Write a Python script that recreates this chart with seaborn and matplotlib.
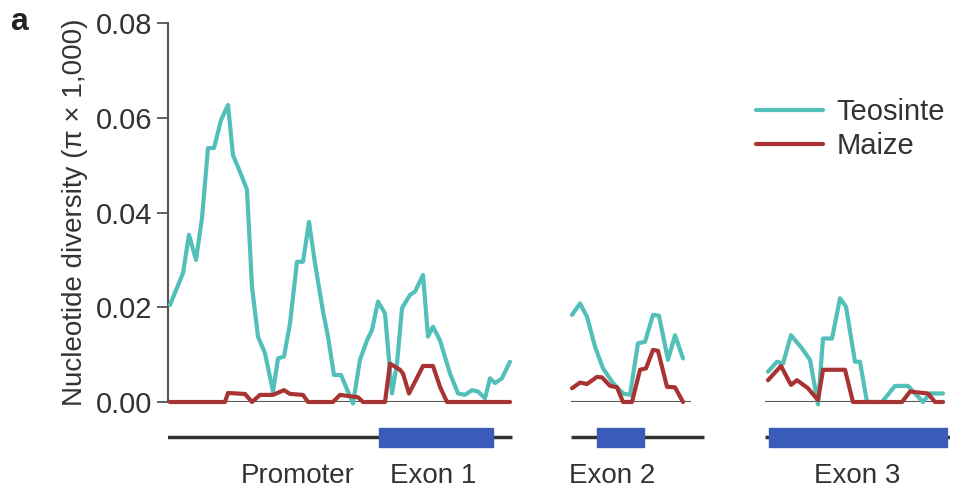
import numpy as np
import pandas as pd
import matplotlib
matplotlib.use("Agg")
import matplotlib.pyplot as plt
import seaborn as sns

# ---- data (positions in arbitrary units along the gene) ----

# segment 1: promoter + exon 1
teo_pos_1 = [2, 15, 21, 28, 34, 40, 46, 53, 60, 65, 72, 79, 84, 90, 97, 105, 110, 116, 122, 129,
             135, 141, 147, 155, 160, 166, 173, 185, 192, 199, 204, 210, 217, 224, 229, 234, 242,
             247, 255, 260, 265, 272, 282, 290, 297, 304, 310, 317, 322, 327, 334, 342]
teo_pi_1 = [0.0205, 0.0272, 0.0353, 0.0300, 0.0388, 0.0536, 0.0536, 0.0595, 0.0627, 0.0521,
            0.0486, 0.0448, 0.0243, 0.0138, 0.0103, 0.0022, 0.0092, 0.0096, 0.0166, 0.0296,
            0.0296, 0.0380, 0.0293, 0.0191, 0.0138, 0.0057, 0.0057, -0.0003, 0.0089, 0.0130,
            0.0152, 0.0212, 0.0187, 0.0018, 0.0081, 0.0198, 0.0226, 0.0233, 0.0268, 0.0138,
            0.0159, 0.0130, 0.0060, 0.0018, 0.0015, 0.0025, 0.0022, 0.0008, 0.0050, 0.0040,
            0.0050, 0.0085]
maize_pos_1 = [2, 57, 60, 77, 84, 92, 105, 116, 122, 135, 140, 165, 172, 190, 195, 217, 222,
               232, 235, 241, 255, 265, 272, 279, 342]
maize_pi_1 = [0, 0, 0.0019, 0.0017, 0, 0.0015, 0.0015, 0.0025, 0.0017, 0.0015, 0, 0, 0.0015,
              0.0010, 0, 0, 0.0081, 0.0068, 0.0060, 0.0018, 0.0076, 0.0076, 0.0032, 0, 0]

# segment 2: exon 2
teo_pos_2 = [404, 412, 419, 427, 435, 445, 455, 462, 470, 477, 485, 491, 500, 507, 515]
teo_pi_2 = [0.0184, 0.0208, 0.0180, 0.0117, 0.0071, 0.0040, 0.0018, 0.0015, 0.0124, 0.0127,
            0.0184, 0.0182, 0.0089, 0.0141, 0.0092]
maize_pos_2 = [404, 412, 419, 429, 434, 442, 449, 455, 464, 472, 478, 485, 490, 499, 507, 515]
maize_pi_2 = [0.0029, 0.0041, 0.0038, 0.0053, 0.0052, 0.0034, 0.0031, 0, 0, 0.0068, 0.0071,
              0.0110, 0.0108, 0.0032, 0.0031, 0]

# segment 3: exon 3
teo_pos_3 = [600, 609, 615, 623, 634, 642, 650, 655, 664, 672, 678, 687, 692, 699, 714, 727,
             740, 747, 755, 762, 775]
teo_pi_3 = [0.0064, 0.0085, 0.0081, 0.0141, 0.0113, 0.0089, -0.0005, 0.0134, 0.0134, 0.0219,
            0.0201, 0.0085, 0.0085, 0, 0, 0.0034, 0.0034, 0.0018, 0, 0.0018, 0.0018]
maize_pos_3 = [600, 613, 623, 629, 640, 650, 655, 677, 685, 734, 742, 760, 767, 775]
maize_pi_3 = [0.0046, 0.0076, 0.0036, 0.0046, 0.0029, 0.0004, 0.0068, 0.0068, 0, 0, 0.0022,
              0.0018, 0, 0]

# baselines of the sequenced segments
base_start = [0, 403, 597]
base_end = [344, 523, 777]

# gene model
gene_start = [-1, 403, 597]
gene_end = [344, 536, 782]
exon_start = [211, 429, 601]
exon_end = [325, 476, 779]
gene_labels = ["Promoter", "Exon 1", "Exon 2", "Exon 3"]
gene_label_pos = [130, 265, 444, 689]

TEAL = "#52bfb8"
RED = "#a83333"

# long table for seaborn
rows = []
for seg, (tp, tv, mp, mv) in enumerate([(teo_pos_1, teo_pi_1, maize_pos_1, maize_pi_1),
                                         (teo_pos_2, teo_pi_2, maize_pos_2, maize_pi_2),
                                         (teo_pos_3, teo_pi_3, maize_pos_3, maize_pi_3)]):
    rows += [(p, v, "Teosinte", seg) for p, v in zip(tp, tv)]
    rows += [(p, v, "Maize", seg) for p, v in zip(mp, mv)]
df = pd.DataFrame(rows, columns=["pos", "pi", "group", "segment"])

sns.set_style("white")
plt.rcParams["font.family"] = ["Liberation Sans", "DejaVu Sans"]

fig = plt.figure(figsize=(9.54, 4.91), dpi=100)
ax = fig.add_axes([168 / 954, 89 / 491, 782 / 954, 379 / 491])
gax = fig.add_axes([168 / 954, 0, 782 / 954, 76 / 491], sharex=ax)

# zero baselines
ax.hlines([0] * 3, base_start, base_end, color="#555555", lw=1.5, zorder=1)

sns.lineplot(data=df, x="pos", y="pi", hue="group", units="segment", estimator=None,
             sort=False, palette={"Teosinte": TEAL, "Maize": RED},
             hue_order=["Teosinte", "Maize"], lw=3.0, ax=ax, zorder=3)

ax.set_xlim(0, 782)
ax.set_ylim(0, 0.08)
ax.set_yticks([0, 0.02, 0.04, 0.06, 0.08])
ax.set_yticklabels(["0.00", "0.02", "0.04", "0.06", "0.08"])
ax.tick_params(axis="y", labelsize=21, length=8, width=1.3, color="#555555",
               labelcolor="#333333", pad=3, left=True)
ax.tick_params(axis="x", bottom=False, labelbottom=False)
ax.set_xlabel("")
ax.set_ylabel("Nucleotide diversity (\u03c0 \u00d7 1,000)", fontsize=20, color="#333333",
              labelpad=6)
for s in ["top", "right", "bottom"]:
    ax.spines[s].set_visible(False)
ax.spines["left"].set_color("#555555")
ax.spines["left"].set_linewidth(1.5)
for line in ax.lines:
    line.set_clip_on(False)

leg = ax.legend(loc="upper left", bbox_to_anchor=(0.737, 0.833), frameon=False, fontsize=21,
                handlelength=2.3, handletextpad=0.45, labelspacing=0.22, borderaxespad=0)
for t in leg.get_texts():
    t.set_color("#333333")

fig.text(10 / 954, 1 - 22 / 491, "a", fontsize=23, fontweight="bold", va="center",
         color="#222222")

# gene model panel
gax.set_ylim(0, 1)
gax.axis("off")
gax.hlines([0.71] * 3, gene_start, gene_end, color="#333333", lw=2.5, zorder=1)
for s, e in zip(exon_start, exon_end):
    gax.add_patch(plt.Rectangle((s, 0.58), e - s, 0.25, color="#3a5cb8", zorder=2))
for lab, x in zip(gene_labels, gene_label_pos):
    gax.text(x, 0.2, lab, ha="center", va="center", fontsize=20, color="#333333")

fig.savefig("out.png", dpi=100)
